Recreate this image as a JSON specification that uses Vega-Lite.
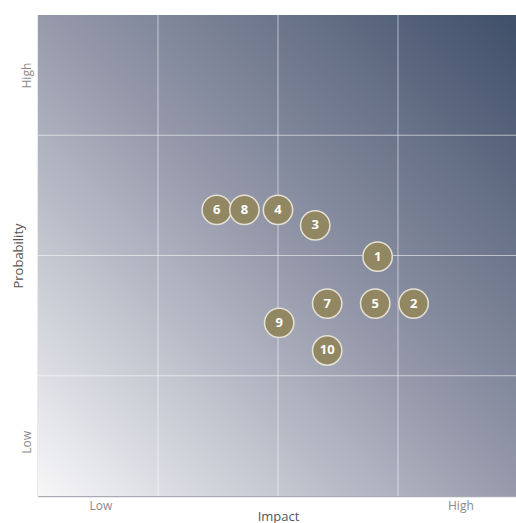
{
  "$schema": "https://vega.github.io/schema/vega-lite/v6.json",
  "width": 480,
  "height": 481,
  "autosize": {"type": "none"},
  "padding": {"left": 38, "top": 15, "right": 0, "bottom": 27},
  "background": "white",
  "config": {
    "view": {"stroke": null},
    "font": "Open Sans"
  },
  "datasets": {
    "risks": [
      {"id": "6", "impact": 1.49, "probability": 2.38},
      {"id": "8", "impact": 1.72, "probability": 2.38},
      {"id": "4", "impact": 2.0, "probability": 2.38},
      {"id": "3", "impact": 2.31, "probability": 2.25},
      {"id": "1", "impact": 2.83, "probability": 1.99},
      {"id": "7", "impact": 2.41, "probability": 1.6},
      {"id": "5", "impact": 2.81, "probability": 1.6},
      {"id": "2", "impact": 3.13, "probability": 1.6},
      {"id": "9", "impact": 2.01, "probability": 1.44},
      {"id": "10", "impact": 2.41, "probability": 1.21}
    ],
    "grid": [{"v": 1}, {"v": 2}, {"v": 3}]
  },
  "layer": [
    {
      "data": {"values": [{"x0": 0, "x1": 4, "y0": 0, "y1": 4}]},
      "mark": {
        "type": "rect",
        "color": {
          "gradient": "linear",
          "x1": 0, "y1": 1, "x2": 1, "y2": 0,
          "stops": [
            {"offset": 0, "color": "#f7f7f9"},
            {"offset": 0.5, "color": "#969aab"},
            {"offset": 1, "color": "#3f4e69"}
          ]
        }
      },
      "encoding": {
        "x": {
          "field": "x0", "type": "quantitative",
          "scale": {"domain": [0, 4], "nice": false},
          "axis": {
            "title": "Impact",
            "values": [0.52, 3.52],
            "labelExpr": "datum.value < 2 ? 'Low' : 'High'",
            "ticks": false,
            "grid": false,
            "domainColor": "#a9abb3",
            "domainWidth": 1.5,
            "labelColor": "#8a8a8a",
            "labelFontSize": 12,
            "labelPadding": 4,
            "titleColor": "#555555",
            "titleFontSize": 13,
            "titleFontWeight": "normal",
            "titleBaseline": "alphabetic",
            "titleY": 24
          }
        },
        "x2": {"field": "x1"},
        "y": {
          "field": "y0", "type": "quantitative",
          "scale": {"domain": [0, 4], "nice": false},
          "axis": {
            "title": "Probability",
            "values": [0.45, 3.5],
            "labelExpr": "datum.value < 2 ? 'Low' : 'High'",
            "labelAngle": -90,
            "labelAlign": "center",
            "labelBaseline": "bottom",
            "ticks": false,
            "grid": false,
            "domainColor": "#a9abb3",
            "domainWidth": 1.5,
            "labelColor": "#8a8a8a",
            "labelFontSize": 12,
            "labelPadding": 5,
            "titleColor": "#555555",
            "titleFontSize": 13,
            "titleFontWeight": "normal",
            "titleBaseline": "alphabetic",
            "titleX": -16
          }
        },
        "y2": {"field": "y1"}
      }
    },
    {
      "data": {"name": "grid"},
      "mark": {"type": "rule", "color": "white", "opacity": 0.55, "strokeWidth": 1},
      "encoding": {"x": {"field": "v", "type": "quantitative"}}
    },
    {
      "data": {"name": "grid"},
      "mark": {"type": "rule", "color": "white", "opacity": 0.55, "strokeWidth": 1},
      "encoding": {"y": {"field": "v", "type": "quantitative"}}
    },
    {
      "data": {"name": "risks"},
      "mark": {
        "type": "circle",
        "size": 860,
        "opacity": 1,
        "fill": "#928763",
        "stroke": "#e6e2d6",
        "strokeWidth": 1.5
      },
      "encoding": {
        "x": {"field": "impact", "type": "quantitative"},
        "y": {"field": "probability", "type": "quantitative"}
      }
    },
    {
      "data": {"name": "risks"},
      "mark": {"type": "text", "color": "white", "fontSize": 13, "fontWeight": "bold", "baseline": "middle", "align": "center"},
      "encoding": {
        "x": {"field": "impact", "type": "quantitative"},
        "y": {"field": "probability", "type": "quantitative"},
        "text": {"field": "id"}
      }
    }
  ]
}
